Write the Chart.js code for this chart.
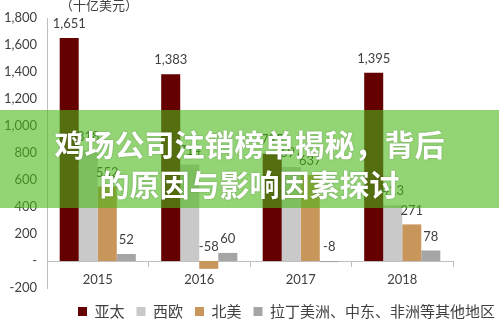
<!DOCTYPE html>
<html lang="zh">
<head>
    <meta charset="UTF-8">
    <title>鸡场公司注销榜单揭秘</title>
    <script src="https://cdn.jsdelivr.net/npm/chart.js"></script>
    <style>
        body {
            margin: 0;
            background-color: #ffffff;
        }
        .wrap {
            position: relative;
            width: 499px;
            height: 320px;
            overflow: hidden;
        }
        .banner {
            position: absolute;
            left: 0;
            top: 110px;
            width: 499px;
            height: 98px;
            background-color: rgba(75, 183, 25, 0.6);
            color: #ffffff;
            font-family: "Noto Sans CJK SC", sans-serif;
            font-weight: bold;
            font-size: 30px;
            line-height: 40px;
            text-align: center;
            box-sizing: border-box;
            padding-top: 13px;
            text-shadow: 0 0 2px rgba(0,0,0,0.25);
        }
    </style>
</head>
<body>
    <div class="wrap">
        <canvas id="chart"></canvas>
        <div class="banner">鸡场公司注销榜单揭秘，背后<br>的原因与影响因素探讨</div>
    </div>

    <script>
        const years = ['2015', '2016', '2017', '2018'];
        const regions = ['亚太', '西欧', '北美', '拉丁美洲、中东、非洲等其他地区'];
        const asiaPacific = [1651, 1383, 795, 1395];
        const westEurope = [818, 714, 697, 413];
        const northAmerica = [552, -58, 637, 271];
        const otherRegions = [52, 60, -8, 78];
        const colors = ['#650000', '#c9c9c9', '#c8955b', '#a5a5a5'];
        const unitLabel = '（十亿美元）';

        const valueLabels = {
            id: 'valueLabels',
            afterDatasetsDraw(chart) {
                const ctx = chart.ctx;
                ctx.save();
                ctx.font = '13px Lato';
                ctx.fillStyle = '#404040';
                ctx.textAlign = 'center';
                ctx.textBaseline = 'middle';
                chart.data.datasets.forEach((ds, i) => {
                    chart.getDatasetMeta(i).data.forEach((bar, j) => {
                        const top = Math.min(bar.y, bar.base);
                        ctx.fillText(ds.data[j].toLocaleString('en-US'), bar.x, top - 14);
                    });
                });
                // unit over the axis
                ctx.font = '13px "Noto Sans CJK SC"';
                ctx.fillText(unitLabel, chart.chartArea.left + 52, 5);
                ctx.restore();
            }
        };

        const series = [asiaPacific, westEurope, northAmerica, otherRegions];

        new Chart(document.getElementById('chart').getContext('2d'), {
            type: 'bar',
            data: {
                labels: years,
                datasets: series.map((vals, i) => ({
                    label: regions[i],
                    data: vals,
                    backgroundColor: colors[i],
                    barPercentage: 1.0,
                    categoryPercentage: 0.75
                }))
            },
            options: {
                responsive: true,
                maintainAspectRatio: false,
                animation: false,
                layout: {
                    padding: { top: 18, left: 2, right: -8, bottom: -9 }
                },
                scales: {
                    x: {
                        position: { y: 0 },
                        grid: {
                            display: true,
                            drawOnChartArea: false,
                            offset: true,
                            tickLength: 5,
                            color: '#bfbfbf'
                        },
                        border: { color: '#bfbfbf' },
                        ticks: {
                            color: '#404040',
                            font: { family: 'Lato', size: 13 },
                            padding: 6
                        }
                    },
                    // gap between plot and legend
                    xGap: {
                        type: 'category',
                        position: 'bottom',
                        afterFit: s => { s.height = 4; },
                        grid: { display: false },
                        border: { display: false },
                        ticks: { display: false }
                    },
                    y: {
                        min: -200,
                        max: 1800,
                        afterFit: s => { s.width = 45; },
                        grid: { display: false },
                        border: { display: true, color: '#bfbfbf' },
                        ticks: {
                            stepSize: 200,
                            color: '#404040',
                            padding: 2,
                            font: { family: 'Lato', size: 13 },
                            callback: v => v === 0 ? '-' : v.toLocaleString('en-US')
                        }
                    },
                    // empty space on the right, like the original
                    yRight: {
                        position: 'right',
                        afterFit: s => { s.width = 54; },
                        grid: { display: false },
                        border: { display: false },
                        ticks: { display: false }
                    }
                },
                plugins: {
                    legend: {
                        position: 'bottom',
                        align: 'end',
                        labels: {
                            color: '#404040',
                            boxWidth: 9,
                            boxHeight: 9,
                            padding: 12,
                            font: { family: '"Noto Sans CJK SC"', size: 15 }
                        }
                    },
                    tooltip: { enabled: false }
                }
            },
            plugins: [valueLabels]
        });
    </script>
</body>
</html>
